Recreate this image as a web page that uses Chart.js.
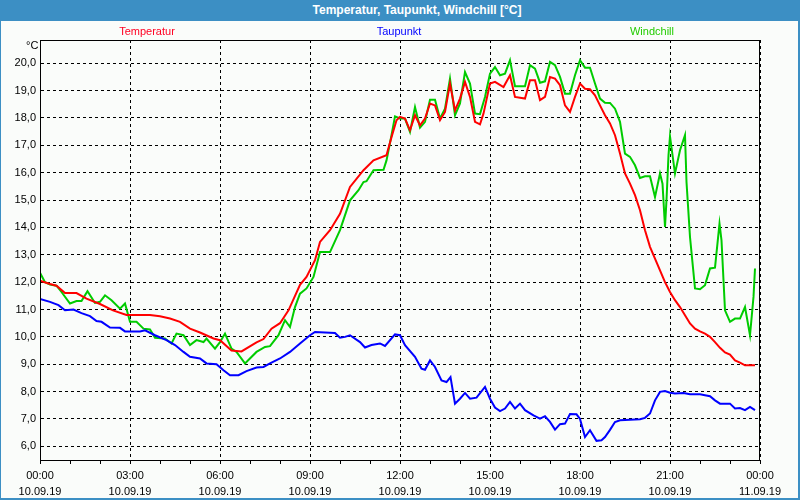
<!DOCTYPE html>
<html>
<head>
<meta charset="utf-8">
<script src="https://cdn.jsdelivr.net/npm/chart.js@4/dist/chart.umd.min.js"></script>
<style>
  body { margin: 0; background: #fafcfa; }
  #wrap { position: relative; width: 800px; height: 500px; overflow: hidden; }
  #myChart { position: absolute; left: 0; top: 0; }
  #frame { position: absolute; left: 0; top: 0; width: 800px; height: 500px; box-sizing: border-box;
           border-left: 1px solid #3c8fc4; border-right: 2px solid #3c8fc4; border-bottom: 2px solid #3c8fc4; pointer-events: none; }
  #title { position: absolute; left: 0; top: 0; width: 800px; height: 21px; background: #3c8fc4; }
  #title span { position: absolute; left: 417px; top: 3px; transform: translateX(-50%); white-space: nowrap;
                font: bold 12px "Liberation Sans", Arial, sans-serif; color: #fff; }
  .leg { position: absolute; top: 25px; transform: translateX(-50%); font: 11px "Liberation Sans", Arial, sans-serif; white-space: nowrap; }
  #unit { position: absolute; left: 26px; top: 39px; font: 11px "Liberation Sans", Arial, sans-serif; color: #000; }
</style>
</head>
<body>
<div id="wrap">
  <canvas id="myChart" width="800" height="500"></canvas>
  <div id="title"><span>Temperatur, Taupunkt, Windchill [°C]</span></div>
  <div class="leg" style="left:147px;color:#ff0022">Temperatur</div>
  <div class="leg" style="left:399px;color:#0000ff">Taupunkt</div>
  <div class="leg" style="left:652px;color:#22cc00">Windchill</div>
  <div id="unit">°C</div>
  <div id="frame"></div>
</div>
<script>
// minutes since 10.09.19 00:00
const tempMinutes = [0, 20, 33, 50, 73, 93, 120, 146, 173, 220, 240, 260, 280, 300, 320, 347, 360, 383, 403, 433, 447, 463, 480, 497,
  520, 533, 550, 560, 580, 600, 620, 647, 667, 693, 703, 713, 720, 730, 740, 750, 760, 770, 780, 790, 800, 810, 820, 830, 840, 850,
  860, 870, 880, 887, 900, 910, 927, 940, 950, 970, 980, 990, 1000, 1010, 1020, 1030, 1040, 1050, 1060, 1070, 1080, 1090, 1100, 1110,
  1120, 1130, 1140, 1150, 1160, 1170, 1180, 1190, 1200, 1210, 1220, 1230, 1240, 1250, 1260, 1270, 1280, 1290, 1300, 1310, 1320, 1330,
  1340, 1350, 1360, 1370, 1380, 1390, 1400, 1410, 1430];
const tempValues = [12.05, 11.93, 11.87, 11.6, 11.6, 11.4, 11.2, 10.97, 10.8, 10.8, 10.75, 10.67, 10.55, 10.3, 10.16, 9.94, 9.88, 9.5, 9.47, 9.8, 9.92, 10.3, 10.5, 10.97,
  11.9, 12.19, 12.8, 13.47, 13.9, 14.5, 15.48, 16.09, 16.45, 16.64, 17.3, 17.92, 18.04, 17.98, 17.55, 18.1, 17.73, 17.98, 18.53, 18.46, 17.92, 18.22, 19.26, 18.28, 18.71, 19.32,
  18.77, 17.86, 17.77, 18.16, 19.26, 19.32, 19.13, 19.56, 18.77, 18.71, 19.38, 19.38, 18.65, 18.77, 19.5, 19.44, 19.2, 18.46, 18.22, 18.77, 19.26, 19.07, 19.05, 18.83,
  18.46, 18.1, 17.8, 17.37, 16.7, 15.97, 15.6, 15.18, 14.63, 13.9, 13.29, 12.86, 12.43, 12.0, 11.64, 11.34, 11.09, 10.79, 10.49, 10.3, 10.2, 10.12,
  10.0, 9.81, 9.6, 9.43, 9.35, 9.14, 9.06, 8.96, 8.96];

const dewMinutes = [0, 20, 37, 50, 67, 83, 100, 113, 123, 140, 160, 170, 200, 210, 230, 253, 270, 287, 300, 320, 333, 353, 367, 380, 397,
  413, 433, 447, 460, 480, 500, 520, 540, 550, 590, 600, 610, 620, 640, 650, 663, 680, 690, 710, 720, 730, 750, 763, 770, 780, 790,
  803, 813, 821, 830, 840, 850, 860, 873, 890, 900, 910, 920, 930, 940, 950, 960, 970, 987, 1000, 1010, 1020, 1030, 1040, 1050, 1060,
  1073, 1080, 1090, 1100, 1113, 1123, 1130, 1140, 1150, 1160, 1180, 1200, 1210, 1220, 1230, 1240, 1250, 1260, 1270, 1287, 1300, 1320,
  1330, 1340, 1350, 1360, 1380, 1390, 1400, 1410, 1420, 1430];
const dewValues = [11.39, 11.28, 11.16, 10.97, 11.0, 10.87, 10.76, 10.58, 10.55, 10.34, 10.33, 10.2, 10.2, 10.24, 10.06, 9.88, 9.7, 9.45, 9.27, 9.21, 9.03, 9.0, 8.78, 8.6, 8.6,
  8.75, 8.88, 8.9, 9.03, 9.21, 9.45, 9.76, 10.06, 10.18, 10.14, 9.97, 10.0, 10.06, 9.81, 9.61, 9.7, 9.76, 9.67, 10.09, 10.06, 9.7, 9.27, 8.84, 8.8, 9.14, 8.9,
  8.41, 8.35, 8.53, 7.56, 7.74, 7.95, 7.74, 7.78, 8.17, 7.74, 7.42, 7.29, 7.38, 7.62, 7.38, 7.56, 7.32, 7.13, 7.01, 7.1, 6.89, 6.61, 6.81, 6.83, 7.18,
  7.17, 7.0, 6.34, 6.59, 6.2, 6.22, 6.34, 6.6, 6.89, 6.95, 6.97, 6.99, 7.04, 7.2, 7.68, 7.99, 8.02, 7.96, 7.93, 7.95, 7.9, 7.9,
  7.87, 7.83, 7.68, 7.56, 7.56, 7.38, 7.4, 7.32, 7.44, 7.32];

const chillMinutes = [0, 10, 20, 33, 43, 60, 73, 83, 95, 110, 120, 130, 143, 160, 170, 180, 193, 207, 220, 230, 250, 263, 273, 287, 300,
  313, 327, 333, 350, 360, 370, 383, 393, 410, 433, 450, 460, 477, 490, 500, 510, 520, 533, 547, 560, 580, 600, 620, 637, 647, 653,
  667, 687, 693, 703, 710, 720, 730, 740, 750, 760, 770, 780, 790, 800, 810, 820, 830, 840, 850, 860, 870, 880, 890, 900, 910, 920,
  930, 940, 950, 970, 980, 990, 1000, 1010, 1020, 1030, 1040, 1050, 1060, 1070, 1080, 1090, 1100, 1110, 1120, 1130, 1140, 1150, 1160,
  1170, 1180, 1190, 1200, 1210, 1220, 1230, 1240, 1245, 1250, 1253, 1257, 1260, 1270, 1280, 1290, 1293, 1300, 1310, 1320, 1330, 1340,
  1350, 1359, 1363, 1370, 1380, 1390, 1400, 1410, 1420, 1427, 1430];
const chillValues = [12.34, 12.0, 11.91, 11.87, 11.64, 11.22, 11.31, 11.31, 11.67, 11.24, 11.28, 11.52, 11.34, 11.03, 11.22, 10.55, 10.55, 10.3, 10.27, 9.97, 9.94, 9.76, 10.12, 10.06, 9.7,
  9.88, 9.81, 9.94, 9.57, 9.81, 10.12, 9.57, 9.45, 9.03, 9.45, 9.63, 9.66, 10.06, 10.61, 10.36, 11.09, 11.58, 11.77, 12.19, 13.1, 13.1, 13.9, 14.99, 15.36, 15.66, 15.69,
  16.09, 16.11, 16.45, 17.37, 18.06, 17.98, 17.98, 17.49, 18.4, 17.65, 17.86, 18.67, 18.67, 17.98, 18.34, 19.44, 18.1, 18.53, 19.68, 19.26, 18.16, 18.14, 18.77, 19.62, 19.86, 19.56,
  19.62, 20.11, 19.16, 19.16, 19.93, 19.8, 19.29, 19.34, 20.05, 19.93, 19.5, 18.89, 18.89, 19.56, 20.11, 19.84, 19.84, 19.26, 18.71, 18.56, 18.55, 18.34, 17.86,
  16.7, 16.58, 16.27, 15.81, 15.87, 15.87, 15.11, 15.97, 15.6, 14.02, 15.0, 16.64, 17.33, 15.97, 16.82, 17.37, 15.66, 13.65, 11.77, 11.74, 11.89, 12.5,
  12.53, 14.14, 13.53, 10.97, 10.55, 10.67, 10.67, 11.09, 10.06, 11.46, 12.5];

const xTickMinutes = [0, 60, 120, 180, 240, 300, 360, 420, 480, 540, 600, 660, 720, 780, 840, 900, 960, 1020, 1080, 1140, 1200, 1260, 1320, 1380, 1440];
const xTickLabels = {
  0: ['00:00', '10.09.19'], 180: ['03:00', '10.09.19'], 360: ['06:00', '10.09.19'], 540: ['09:00', '10.09.19'],
  720: ['12:00', '10.09.19'], 900: ['15:00', '10.09.19'], 1080: ['18:00', '10.09.19'], 1260: ['21:00', '10.09.19'],
  1440: ['00:00', '11.09.19']
};
const yTickValues = [6, 7, 8, 9, 10, 11, 12, 13, 14, 15, 16, 17, 18, 19, 20];

const toPoints = (xs, ys) => xs.map((x, i) => ({ x, y: ys[i] }));

const lineStyle = color => ({
  borderColor: color,
  borderWidth: 2,
  pointRadius: 0,
  tension: 0,
  fill: false
});

// box around the plot area (top and right side)
const frameBox = {
  id: 'frameBox',
  afterDraw(chart) {
    const { ctx, chartArea: a } = chart;
    ctx.save();
    ctx.strokeStyle = '#000';
    ctx.lineWidth = 1;
    ctx.strokeRect(a.left + 0.5, a.top + 0.5, a.right - a.left - 1, a.bottom - a.top);
    ctx.restore();
  }
};

const ctx = document.getElementById('myChart').getContext('2d');

new Chart(ctx, {
  type: 'line',
  data: {
    datasets: [
      { label: 'Temperatur', data: toPoints(tempMinutes, tempValues), ...lineStyle('#ff0000') },
      { label: 'Taupunkt', data: toPoints(dewMinutes, dewValues), ...lineStyle('#0000ff') },
      { label: 'Windchill', data: toPoints(chillMinutes, chillValues), ...lineStyle('#00cc00') }
    ]
  },
  options: {
    responsive: false,
    animation: false,
    layout: { padding: { top: 40, right: 40, left: 0, bottom: 0 } },
    plugins: {
      legend: { display: false },
      title: { display: false },
      tooltip: { enabled: false }
    },
    scales: {
      x: {
        type: 'linear',
        min: 0,
        max: 1440,
        afterFit: scale => { scale.height = 40; },
        afterBuildTicks: scale => { scale.ticks = xTickMinutes.map(v => ({ value: v })); },
        grid: {
          color: c => (c.tick && c.tick.value % 180 === 0 ? '#000' : 'transparent'),
          tickColor: '#000',
          tickLength: 4,
          lineWidth: 1
        },
        border: { display: true, color: '#000', width: 1, dash: [3, 3] },
        ticks: {
          autoSkip: false,
          maxRotation: 0,
          padding: 4,
          color: '#000',
          font: { family: '"Liberation Sans", Arial, sans-serif', size: 11, lineHeight: 1.45 },
          callback: v => xTickLabels[v] || ''
        }
      },
      y: {
        min: 5.5,
        max: 20.85,
        afterFit: scale => { scale.width = 40; },
        afterBuildTicks: scale => { scale.ticks = yTickValues.map(v => ({ value: v })); },
        grid: { color: '#000', lineWidth: 1, drawTicks: false },
        border: { display: true, color: '#000', width: 1, dash: [3, 3] },
        ticks: {
          padding: 4,
          color: '#000',
          font: { family: '"Liberation Sans", Arial, sans-serif', size: 11 },
          callback: v => v.toFixed(1).replace('.', ',')
        }
      }
    }
  },
  plugins: [frameBox]
});
</script>
</body>
</html>
